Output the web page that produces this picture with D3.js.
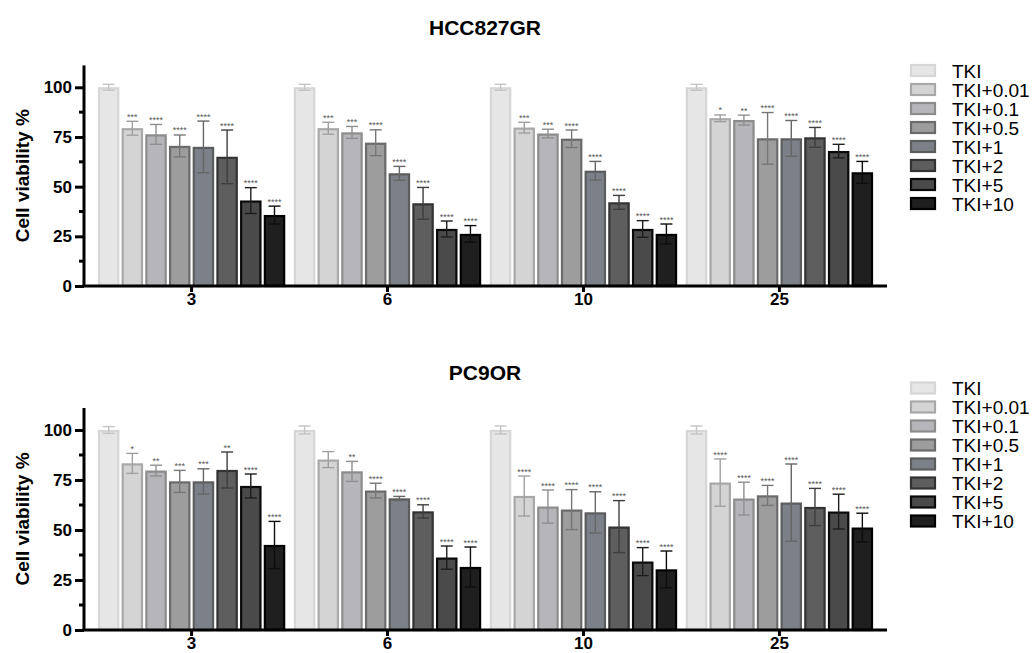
<!DOCTYPE html>
<html><head><meta charset="utf-8">
<script src="https://cdn.jsdelivr.net/npm/d3@7"></script>
<style>body{margin:0;background:#fff}svg{display:block;font-family:"Liberation Sans",Arial,sans-serif}</style>
</head><body><svg id="c" width="1035" height="653"></svg>
<script>
const groups = ["3", "6", "10", "25"];
const seriesNames = ["TKI", "TKI+0.01", "TKI+0.1", "TKI+0.5", "TKI+1", "TKI+2", "TKI+5", "TKI+10"];
const yTicks = [0, 25, 50, 75, 100];

const hccMeans = [
  [100, 79.4, 76.3, 70.5, 70.0, 65.0, 43.0, 35.7],
  [100, 79.4, 77.3, 72.1, 56.7, 41.6, 28.7, 26.2],
  [100, 79.7, 76.7, 74.1, 58.0, 42.1, 28.7, 26.2],
  [100, 84.4, 83.5, 74.3, 74.3, 74.8, 67.9, 57.2]
];
const hccErr = [
  [1.5, 3.5, 5.0, 5.5, 13.0, 13.5, 6.5, 4.5],
  [1.5, 3.0, 3.0, 6.5, 3.5, 8.0, 4.0, 4.2],
  [1.5, 2.7, 2.2, 4.4, 4.7, 3.5, 4.2, 5.0],
  [1.5, 1.7, 2.5, 13.0, 9.0, 5.0, 3.4, 5.5]
];
const hccStars = [
  ["", "***", "****", "****", "****", "****", "****", "****"],
  ["", "***", "***", "****", "****", "****", "****", "****"],
  ["", "***", "***", "****", "****", "****", "****", "****"],
  ["", "*", "**", "****", "****", "****", "****", "****"]
];

const pcMeans = [
  [100, 83.3, 79.7, 74.3, 74.3, 80.0, 72.0, 42.5],
  [100, 85.2, 79.3, 69.7, 65.8, 59.3, 36.2, 31.5],
  [100, 67.0, 61.7, 60.2, 58.8, 51.7, 34.2, 30.3],
  [100, 73.7, 65.7, 67.3, 63.7, 61.5, 59.2, 51.2]
];
const pcErr = [
  [1.7, 5.0, 2.7, 5.5, 6.3, 9.0, 6.0, 11.8],
  [2.0, 4.0, 5.0, 3.7, 1.0, 3.3, 5.8, 10.0],
  [2.0, 10.0, 8.3, 10.0, 10.3, 13.0, 7.0, 9.2],
  [2.0, 11.8, 8.2, 5.0, 19.3, 9.3, 8.7, 7.2]
];
const pcStars = [
  ["", "*", "**", "***", "***", "**", "****", "****"],
  ["", "", "**", "****", "****", "****", "****", "****"],
  ["", "****", "****", "****", "****", "****", "****", "****"],
  ["", "****", "****", "****", "****", "****", "****", "****"]
];

const fills   = ["#e6e6e6", "#d4d4d4", "#b6b6ba", "#9d9d9d", "#7c8089", "#5e5e5e", "#4a4a4a", "#1f1f1f"];
const strokes = ["#d6d6d6", "#a8a8a8", "#8c8c8c", "#6b6b6b", "#5c5c5c", "#333333", "#0a0a0a", "#000000"];
const errCols = ["#c4c4c4", "#a0a0a0", "#8f8f8f", "#777777", "#666666", "#3e3e3e", "#1e1e1e", "#0e0e0e"];

const svg = d3.select("#c");

function panel(opts) {
  const g = svg.append("g");
  const x = d3.scaleBand().domain(groups).range([84, 887]).paddingInner(0.04).paddingOuter(0.069);
  const xi = d3.scaleBand().domain(seriesNames).range([0, x.bandwidth()]).paddingInner(0.1).paddingOuter(0.02);
  const y = d3.scaleLinear().domain([0, 111]).range([opts.y0, opts.y0 - opts.k * 111]);

  g.append("text").attr("x", 485).attr("y", opts.titleY).attr("text-anchor", "middle")
    .attr("font-size", 21).attr("font-weight", "bold").text(opts.title);

  groups.forEach((grp, gi) => {
    seriesNames.forEach((s, si) => {
      const m = opts.means[gi][si], e = opts.err[gi][si];
      const bx = x(grp) + xi(s), bw = xi.bandwidth();
      g.append("rect").attr("x", bx + 1).attr("y", y(m) + 1)
        .attr("width", bw - 2).attr("height", y(0) - y(m) - 1)
        .attr("fill", fills[si]).attr("stroke", strokes[si]).attr("stroke-width", 2.2);
      const cx = bx + bw / 2;
      const ec = errCols[si];
      g.append("line").attr("x1", cx).attr("x2", cx).attr("y1", y(m + e)).attr("y2", y(m - e))
        .attr("stroke", ec).attr("stroke-width", 1.4);
      [m + e, m - e].forEach(v => {
        g.append("line").attr("x1", cx - 6).attr("x2", cx + 6).attr("y1", y(v)).attr("y2", y(v))
          .attr("stroke", ec).attr("stroke-width", 1.4);
      });
      const st = opts.stars[gi][si];
      if (st) {
        g.append("text").attr("x", cx).attr("y", y(m + e) - 1.5).attr("text-anchor", "middle")
          .attr("font-size", 9).attr("fill", "#555").text(st);
      }
    });
  });

  const yAxis = d3.axisLeft(y).tickValues(yTicks).tickSize(9).tickPadding(3);
  const ya = g.append("g").attr("transform", "translate(84,0)").call(yAxis);
  ya.select(".domain").attr("stroke", "#000").attr("stroke-width", 3).attr("d", `M0,${y(111)}V${y(0)}`);
  ya.selectAll(".tick line").attr("stroke", "#000").attr("stroke-width", 3);
  ya.selectAll(".tick text").attr("font-size", 17).attr("font-weight", "bold").attr("fill", "#000")
    .attr("font-family", '"Liberation Sans",Arial,sans-serif');
  const minor = [12.5, 37.5, 62.5, 87.5];
  g.selectAll(null).data(minor).enter().append("line")
    .attr("x1", 79).attr("x2", 84).attr("y1", d => y(d)).attr("y2", d => y(d))
    .attr("stroke", "#000").attr("stroke-width", 3);

  const xAxis = d3.axisBottom(x).tickSize(6).tickPadding(1);
  const xa = g.append("g").attr("transform", `translate(0,${y(0)})`).call(xAxis);
  xa.select(".domain").attr("stroke", "#000").attr("stroke-width", 3).attr("d", "M82.5,0H887");
  xa.selectAll(".tick line").attr("stroke", "#000").attr("stroke-width", 3);
  xa.selectAll(".tick text").attr("font-size", 17).attr("font-weight", "bold").attr("fill", "#000")
    .attr("font-family", '"Liberation Sans",Arial,sans-serif');

  const ymid = (y(0) + y(111)) / 2;
  g.append("text").attr("transform", `translate(29,${ymid}) rotate(-90)`).attr("text-anchor", "middle")
    .attr("font-size", 19).attr("font-weight", "bold").text("Cell viability %");

  const lg = g.append("g");
  seriesNames.forEach((s, si) => {
    const cy = opts.legY + si * 19;
    lg.append("rect").attr("x", 911).attr("y", cy - 5.5).attr("width", 24).attr("height", 11)
      .attr("fill", fills[si]).attr("stroke", strokes[si]).attr("stroke-width", 2.2);
    lg.append("text").attr("x", 952).attr("y", cy + 7).attr("font-size", 19).attr("fill", "#000").text(s);
  });
}

panel({ title: "HCC827GR", titleY: 35, y0: 286, k: 1.987, means: hccMeans, err: hccErr, stars: hccStars, legY: 70.5 });
panel({ title: "PC9OR", titleY: 380, y0: 630, k: 2.0, means: pcMeans, err: pcErr, stars: pcStars, legY: 388 });
</script></body></html>
